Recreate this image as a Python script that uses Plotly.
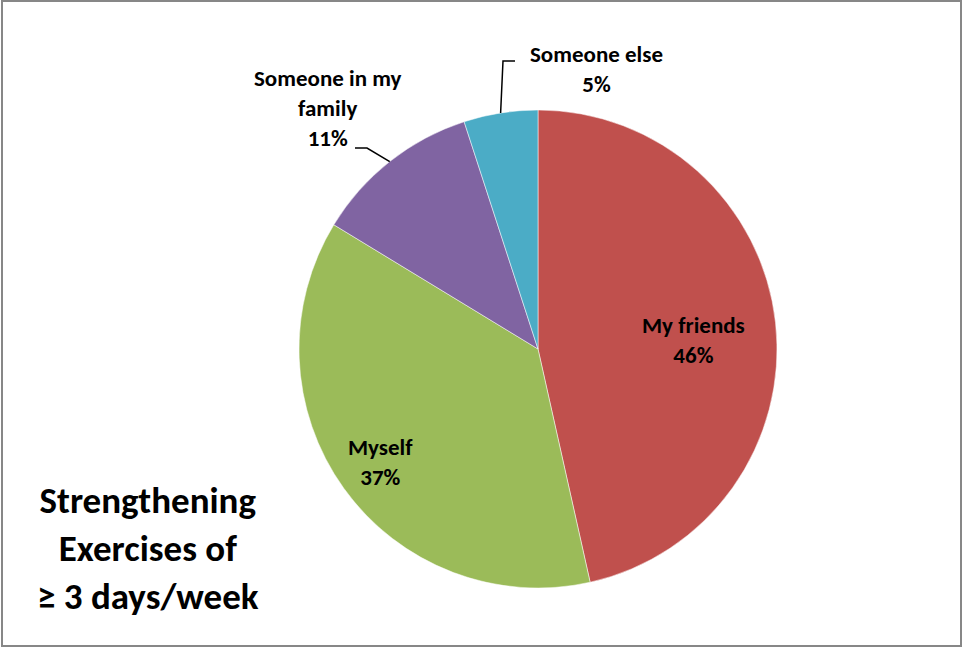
import math
import plotly.graph_objects as go

# Slice data, clockwise from 12 o'clock
labels = ["My friends", "Myself", "Someone in my family", "Someone else"]
values = [46.5, 37.2, 11.3, 5.0]
shown_pct = ["46%", "37%", "11%", "5%"]
colors = ["#C0504D", "#9BBB59", "#8064A2", "#4BACC6"]

W, H = 963, 648
FONT = "Calibri, Carlito, Lato, sans-serif"

# pie placement in pixels
cx, cy, r = 538, 349, 239


def px_to_paper(x, y):
    return x / W, 1 - y / H


def edge_point(i, frac=1.0):
    """Point at the middle angle of slice i, at frac * radius."""
    total = sum(values)
    start = sum(values[:i]) / total
    mid = (start + values[i] / total / 2) * 2 * math.pi
    return cx + frac * r * math.sin(mid), cy - frac * r * math.cos(mid)


def path_of(pts):
    return "M " + " L ".join(
        f"{px_to_paper(a, b)[0]},{px_to_paper(a, b)[1]}" for a, b in pts)


fig = go.Figure(go.Pie(
    labels=labels,
    values=values,
    sort=False,
    direction="clockwise",
    rotation=0,
    marker=dict(colors=colors, line=dict(color="white", width=0.5)),
    textinfo="none",
    hoverinfo="label+percent",
    showlegend=False,
    domain=dict(x=[(cx - r) / W, (cx + r) / W], y=[1 - (cy + r) / H, 1 - (cy - r) / H]),
))

lbl_font = dict(family=FONT, size=23, color="black", weight="bold")

# label text positions (pixels, centre of the text block) for each slice
label_pos = [(693, 340), (380, 462), (327, 108), (596, 69)]
label_txt = [
    "My friends<br>" + shown_pct[0],
    "Myself<br>" + shown_pct[1],
    "Someone in my<br>family<br>" + shown_pct[2],
    "Someone else<br>" + shown_pct[3],
]
for (lx, ly), t in zip(label_pos, label_txt):
    x, y = px_to_paper(lx, ly)
    fig.add_annotation(x=x, y=y, xref="paper", yref="paper", text=t,
                       xanchor="center", yanchor="middle",
                       showarrow=False, font=lbl_font, align="center")

# leader lines for the outside labels
shapes = []
tx, ty = edge_point(2)
shapes.append(dict(type="path", path=path_of([(tx, ty), (367, 148), (355, 148)]),
                   xref="paper", yref="paper", line=dict(color="black", width=1.5)))
tx, ty = edge_point(3)
shapes.append(dict(type="path", path=path_of([(tx, ty), (503, 61), (515, 61)]),
                   xref="paper", yref="paper", line=dict(color="black", width=1.5)))

# outer chart border
x0, y0 = px_to_paper(2, 646)
x1, y1 = px_to_paper(961, 1)
shapes.append(dict(type="rect", x0=x0, y0=y0, x1=x1, y1=y1, xref="paper", yref="paper",
                   line=dict(color="#878787", width=2)))

# title block, bottom-left
tx, ty = px_to_paper(148, 548)
fig.add_annotation(x=tx, y=ty, xref="paper", yref="paper",
                   text="Strengthening<br>Exercises of<br>≥ 3 days/week",
                   xanchor="center", yanchor="middle",
                   showarrow=False, align="center",
                   font=dict(family=FONT, size=37, color="black", weight="bold"))

fig.update_layout(
    width=W, height=H,
    margin=dict(l=0, r=0, t=0, b=0),
    paper_bgcolor="white",
    plot_bgcolor="white",
    shapes=shapes,
)

fig.write_html("out.html", config={"displayModeBar": False},
               post_script="document.body.style.margin='0';"
                           "document.body.style.overflow='hidden';")
